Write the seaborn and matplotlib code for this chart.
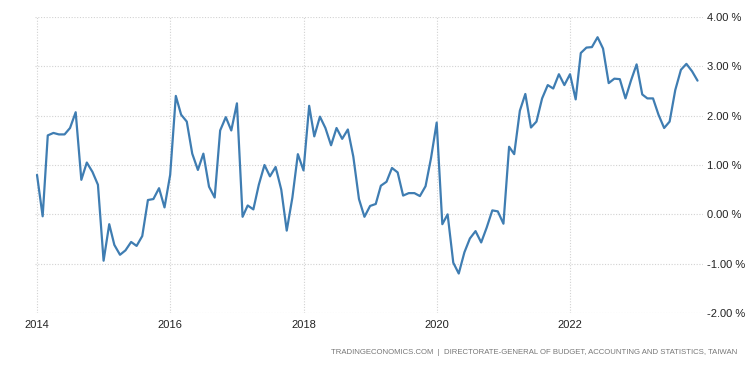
import matplotlib
matplotlib.use("Agg")
import matplotlib.pyplot as plt
import seaborn as sns
import pandas as pd

# Taiwan inflation rate (YoY %), monthly Jan 2014 - Dec 2023
y2014 = [0.80, -0.04, 1.60, 1.65, 1.62, 1.62, 1.75, 2.07, 0.70, 1.05, 0.86, 0.60]
y2015 = [-0.94, -0.20, -0.62, -0.82, -0.73, -0.56, -0.64, -0.44, 0.29, 0.31, 0.53, 0.14]
y2016 = [0.80, 2.40, 2.02, 1.88, 1.23, 0.90, 1.23, 0.56, 0.34, 1.70, 1.97, 1.70]
y2017 = [2.25, -0.05, 0.18, 0.10, 0.60, 1.00, 0.77, 0.96, 0.50, -0.33, 0.34, 1.22]
y2018 = [0.89, 2.20, 1.58, 1.98, 1.75, 1.40, 1.75, 1.53, 1.72, 1.17, 0.31, -0.05]
y2019 = [0.17, 0.21, 0.58, 0.66, 0.94, 0.85, 0.38, 0.43, 0.43, 0.37, 0.57, 1.14]
y2020 = [1.86, -0.20, 0.00, -0.98, -1.20, -0.77, -0.49, -0.34, -0.57, -0.27, 0.08, 0.06]
y2021 = [-0.19, 1.37, 1.22, 2.10, 2.44, 1.76, 1.88, 2.35, 2.62, 2.55, 2.84, 2.62]
y2022 = [2.84, 2.33, 3.27, 3.38, 3.39, 3.59, 3.36, 2.66, 2.75, 2.74, 2.35, 2.71]
y2023 = [3.04, 2.43, 2.35, 2.35, 2.02, 1.75, 1.88, 2.52, 2.93, 3.05, 2.90, 2.71]

values = y2014 + y2015 + y2016 + y2017 + y2018 + y2019 + y2020 + y2021 + y2022 + y2023
dates = pd.date_range("2014-01-01", periods=len(values), freq="MS")
df = pd.DataFrame({"date": dates, "rate": values})

y_ticks = [-2, -1, 0, 1, 2, 3, 4]
y_labels = ["-2.00 %", "-1.00 %", "0.00 %", "1.00 %", "2.00 %", "3.00 %", "4.00 %"]
x_years = [2014, 2016, 2018, 2020, 2022]
source = "TRADINGECONOMICS.COM  |  DIRECTORATE-GENERAL OF BUDGET, ACCOUNTING AND STATISTICS, TAIWAN"

sns.set_style("white")
plt.rcParams["font.family"] = ["Liberation Sans", "DejaVu Sans"]

fig = plt.figure(figsize=(7.55, 3.67), dpi=100)
ax = fig.add_axes([35 / 755, 54 / 367, (703 - 35) / 755, (313 - 17) / 367])

sns.lineplot(data=df, x="date", y="rate", ax=ax, color="#3f7db2", linewidth=1.6)

ax.set_ylim(-2, 4)
ax.set_xlim(pd.Timestamp("2013-12-21"), pd.Timestamp("2023-12-31"))
ax.set_yticks(y_ticks)
ax.set_yticklabels(y_labels)
ax.set_xticks([pd.Timestamp(f"{y}-01-01") for y in x_years])
ax.set_xticklabels([str(y) for y in x_years])
ax.yaxis.tick_right()
ax.tick_params(axis="both", length=0, labelsize=8, colors="#222222")
ax.tick_params(axis="y", pad=3)
ax.tick_params(axis="x", pad=5)
ax.grid(True, color="#d2d2d2", linestyle=(0, (1, 1.5)), linewidth=0.8)
for s in ax.spines.values():
    s.set_visible(False)
ax.set_xlabel("")
ax.set_ylabel("")

fig.text(737 / 755, 1 - 352 / 367, source, ha="right", va="center", fontsize=5.6,
         color="#777777")

fig.savefig("out.png", dpi=100)
